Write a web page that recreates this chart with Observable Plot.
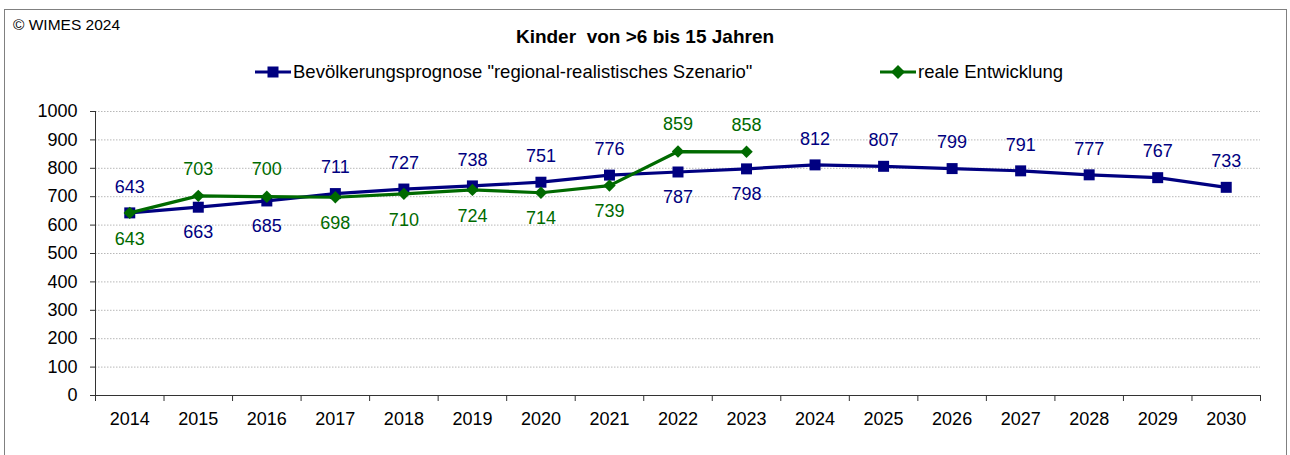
<!DOCTYPE html>
<html><head><meta charset="utf-8">
<script src="https://cdn.jsdelivr.net/npm/d3@7"></script>
<script src="https://cdn.jsdelivr.net/npm/@observablehq/plot@0.6"></script>
<style>
body{margin:0;background:#fff;font-family:Tahoma,"Liberation Sans",Arial,sans-serif;}
#wrap{position:relative;width:1290px;height:455px;overflow:hidden;}
#frame{position:absolute;left:4px;top:9px;width:1283px;height:470px;border:1px solid #808080;box-sizing:border-box;}
#copy{position:absolute;left:13px;top:16px;font-size:15.5px;color:#000;}
#title{position:absolute;left:0;width:1290px;top:26px;text-align:center;font-size:19px;font-weight:bold;color:#000;}
.leg{position:absolute;top:61px;font-size:18.5px;color:#000;white-space:nowrap;display:flex;align-items:center;}
.leg svg{margin-right:2px;}
#chart{position:absolute;left:0;top:95px;}
</style></head>
<body>
<div id="wrap">
<div id="frame"></div>
<div id="copy">© WIMES 2024</div>
<div id="title">Kinder&nbsp; von &gt;6 bis 15 Jahren</div>
<div class="leg" id="leg1" style="left:255px"></div>
<div class="leg" id="leg2" style="left:880px"></div>
<div id="chart"></div>
</div>
<script>
const years = [2014,2015,2016,2017,2018,2019,2020,2021,2022,2023,2024,2025,2026,2027,2028,2029,2030];
const prognose = [643,663,685,711,727,738,751,776,787,798,812,807,799,791,777,767,733];
const realYears = [2014,2015,2016,2017,2018,2019,2020,2021,2022,2023];
const real = [643,703,700,698,710,724,714,739,859,858];
const yTicks = [0,100,200,300,400,500,600,700,800,900,1000];
const seriesNames = ['Bevölkerungsprognose "regional-realistisches Szenario"', "reale Entwicklung"];
const colBlue = "#000080", colGreen = "#006a00";

const blueData = years.map((y,i)=>({year:y, v:prognose[i]}));
const greenData = realYears.map((y,i)=>({year:y, v:real[i]}));
const realMap = new Map(greenData.map(d=>[d.year,d.v]));
const blueAbove = d => !realMap.has(d.year) || d.v >= realMap.get(d.year);
const blueUp = blueData.filter(blueAbove), blueDown = blueData.filter(d=>!blueAbove(d));
const progMap = new Map(blueData.map(d=>[d.year,d.v]));
const greenUp = greenData.filter(d=>d.v > progMap.get(d.year));
const greenDown = greenData.filter(d=>!(d.v > progMap.get(d.year)));
const edges = [years[0]-0.5].concat(years.map(y=>y+0.5));

const fs = 18;
const plot = Plot.plot({
  width:1290, height:360,
  marginLeft:95, marginRight:30, marginTop:16, marginBottom:60,
  style:{fontFamily:'Tahoma,"Liberation Sans",Arial,sans-serif', fontSize:fs+"px", background:"transparent", color:"#000"},
  x:{type:"linear", domain:[years[0]-0.5, years[years.length-1]+0.5]},
  y:{type:"linear", domain:[0,1000]},
  marks:[
    Plot.ruleY(yTicks.filter(t=>t>0), {stroke:"#b8b8b8", strokeDasharray:"1.5,1.5", strokeWidth:1}),
    Plot.axisY({ticks:yTicks, tickSize:5, tickPadding:13, stroke:"#333", fontSize:fs, tickFormat:d=>String(d), label:null}),
    Plot.ruleX([years[0]-0.5], {y1:0, y2:1000, stroke:"#333"}),
    Plot.ruleY([0], {stroke:"#333"}),
    Plot.axisX({ticks:edges, tickSize:6, stroke:"#333", tickFormat:()=>"", label:null}),
    Plot.axisX({ticks:years, tickSize:0, tickPadding:17, fontSize:fs, tickFormat:d=>String(d), label:null}),
    Plot.line(blueData, {x:"year", y:"v", stroke:colBlue, strokeWidth:3.2}),
    Plot.dot(blueData, {x:"year", y:"v", symbol:"square", r:6.2, fill:colBlue, stroke:"none"}),
    Plot.line(greenData, {x:"year", y:"v", stroke:colGreen, strokeWidth:3.2}),
    Plot.dot(greenData, {x:"year", y:"v", symbol:"diamond2", r:5.6, fill:colGreen, stroke:"none"}),
    Plot.text(blueUp, {x:"year", y:"v", text:d=>String(d.v), dy:-26, fill:colBlue, fontSize:fs}),
    Plot.text(blueDown, {x:"year", y:"v", text:d=>String(d.v), dy:25, fill:colBlue, fontSize:fs}),
    Plot.text(greenUp, {x:"year", y:"v", text:d=>String(d.v), dy:-27, fill:colGreen, fontSize:fs}),
    Plot.text(greenDown, {x:"year", y:"v", text:d=>String(d.v), dy:26, fill:colGreen, fontSize:fs})
  ]
});
document.getElementById("chart").appendChild(plot);

function legendSym(kind,color){
  const s = d3.create("svg").attr("width",36).attr("height",14);
  s.append("line").attr("x1",0).attr("x2",36).attr("y1",7).attr("y2",7).attr("stroke",color).attr("stroke-width",3.2);
  if(kind==="square") s.append("rect").attr("x",12.5).attr("y",1.5).attr("width",11).attr("height",11).attr("fill",color);
  else s.append("path").attr("d","M18,0L25,7L18,14L11,7Z").attr("fill",color);
  return s.node();
}
const l1=document.getElementById("leg1"); l1.appendChild(legendSym("square",colBlue)); l1.appendChild(document.createTextNode(seriesNames[0]));
const l2=document.getElementById("leg2"); l2.appendChild(legendSym("diamond",colGreen)); l2.appendChild(document.createTextNode(seriesNames[1]));
</script>
</body></html>
